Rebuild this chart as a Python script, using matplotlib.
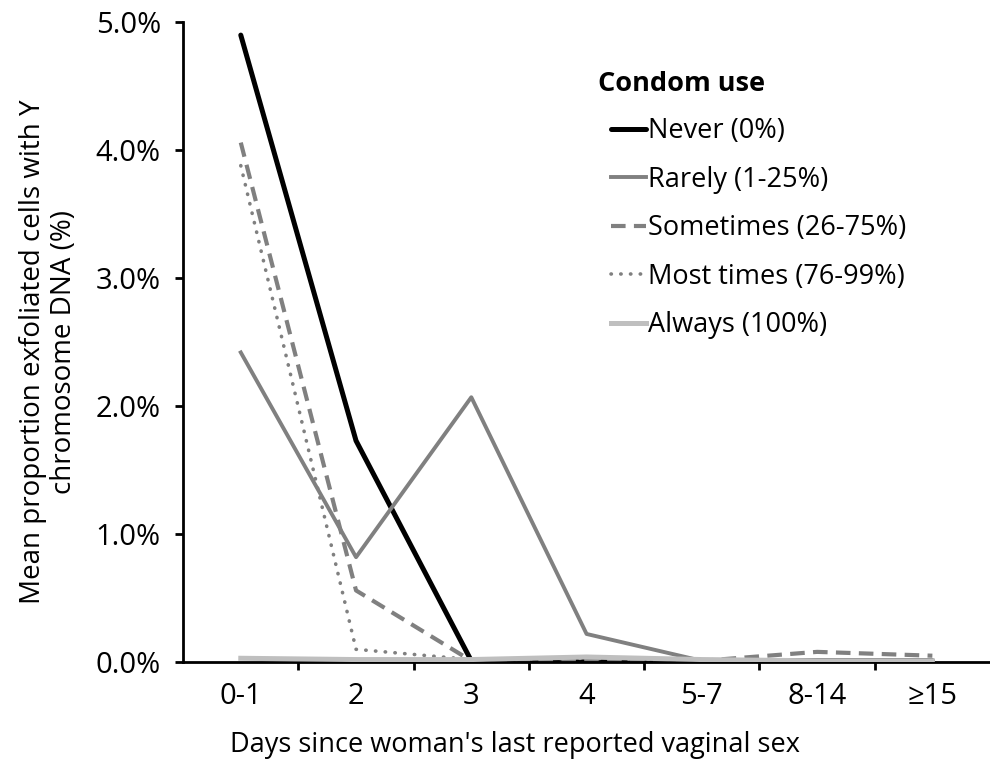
import matplotlib.pyplot as plt
from matplotlib.ticker import FuncFormatter

plt.rcParams['font.family'] = ['Open Sans', 'DejaVu Sans']

# days since last vaginal sex
days = ['0-1', '2', '3', '4', '5-7', '8-14', '≥15']

# mean % exfoliated cells with Y chromosome DNA, by condom use
never = [4.90, 1.73, 0.01, 0.01, 0.01, 0.01, 0.01]
rarely = [2.42, 0.82, 2.07, 0.22, 0.01, 0.01, 0.01]
sometimes = [4.06, 0.56, 0.01, 0.02, 0.01, 0.08, 0.05]
most_times = [3.88, 0.10, 0.02, 0.03, 0.01, 0.01, 0.01]
always = [0.03, 0.02, 0.02, 0.04, 0.02, 0.01, 0.01]

fs = 19.5
tick_fs = 21

fig = plt.figure(figsize=(9.9, 7.69), dpi=100)
ax = fig.add_axes([0.185, 0.139, 0.815, 0.832])

x = range(len(days))
ax.plot(x, never, color='black', lw=3.6, label='Never (0%)', solid_capstyle='round')
ax.plot(x, rarely, color='#808080', lw=2.8, label='Rarely (1-25%)')
ax.plot(x, sometimes, color='#808080', lw=3.0, ls=(0, (3.5, 2)), label='Sometimes (26-75%)')
ax.plot(x, most_times, color='#808080', lw=2.6, ls=(0, (0.1, 2.6)), dash_capstyle='round',
        label='Most times (76-99%)')
ax.plot(x, always, color='#BFBFBF', lw=3.6, label='Always (100%)', zorder=5)

ax.set_xlim(-0.5, len(days) - 0.5)
ax.set_ylim(0, 5.0)
ax.set_yticks([0, 1, 2, 3, 4, 5])
ax.yaxis.set_major_formatter(FuncFormatter(lambda v, p: f'{v:.1f}%'))
ax.set_xticks(list(x))
ax.set_xticklabels(days)
ax.set_xticks([i + 0.5 for i in range(len(days) - 1)], minor=True)
ax.tick_params(axis='x', which='major', length=0, pad=14, labelsize=tick_fs)
ax.tick_params(axis='x', which='minor', length=6, width=2, direction='out')
ax.tick_params(axis='y', length=6, width=2, direction='out', pad=10, labelsize=tick_fs)

for s in ['top', 'right']:
    ax.spines[s].set_visible(False)
for s in ['left', 'bottom']:
    ax.spines[s].set_linewidth(2)

ax.set_xlabel("Days since woman's last reported vaginal sex", fontsize=fs)
ax.xaxis.set_label_coords(0.411, -0.108)
ax.set_ylabel('Mean proportion exfoliated cells with Y\nchromosome DNA (%)', fontsize=20,
              linespacing=1.15)
ax.yaxis.set_label_coords(-0.13, 0.485)

leg = ax.legend(loc='upper left', bbox_to_anchor=(0.5, 0.89), frameon=False,
                fontsize=fs, handlelength=1.3, handletextpad=0.05, labelspacing=0.76)
fig.text(598 / 990, 1 - 84 / 769, 'Condom use', fontsize=fs, fontweight='bold',
         va='center', ha='left')

fig.savefig('out.png', dpi=100)
